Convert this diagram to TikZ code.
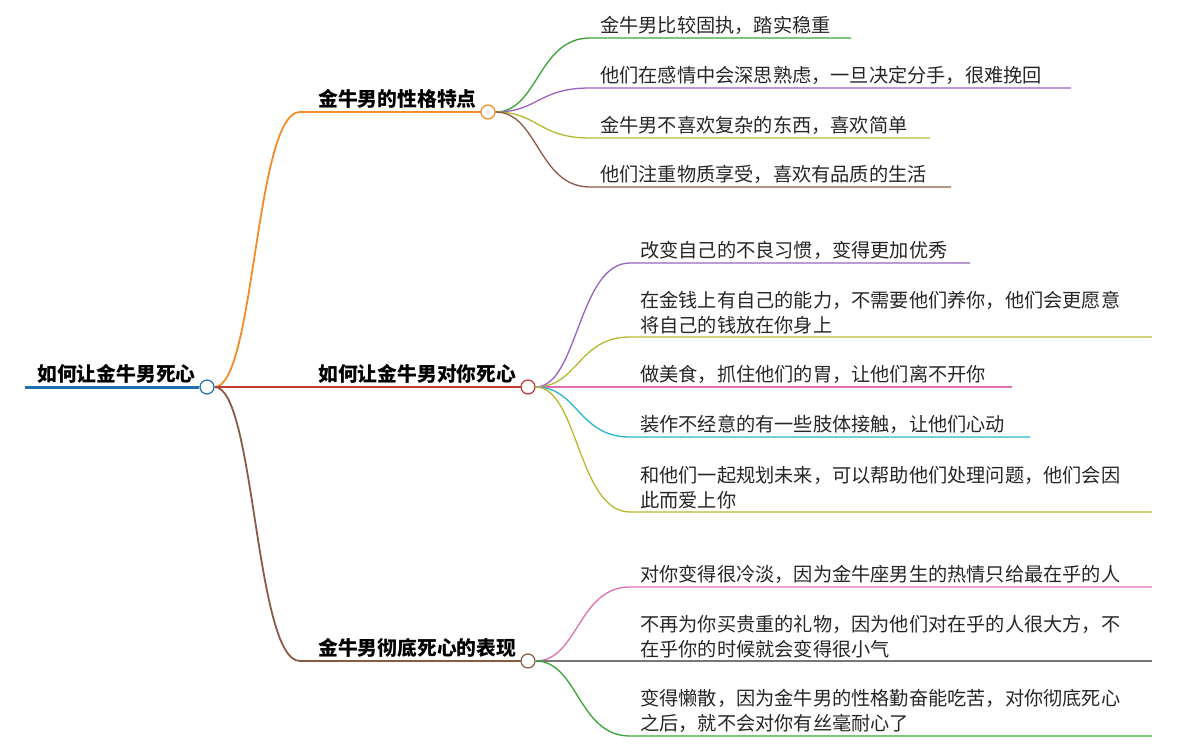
\documentclass[tikz,border=0pt]{standalone}
\usepackage{fontspec}
\setmainfont{Noto Sans CJK SC}
\begin{document}
\begin{tikzpicture}[x=1pt,y=-1pt,
 lf/.style={anchor=south west,inner sep=0pt,font=\fontsize{19.2}{25}\selectfont,align=left,text=black!85},
 br/.style={anchor=south west,inner sep=0pt,font=\fontsize{19.8}{25}\selectfont\bfseries,text=black},
 dot/.style={circle,draw=#1,fill=white,line width=1.2pt,minimum size=14pt,inner sep=0pt},
 ln/.style={line width=1.8pt,draw=#1}]
\useasboundingbox (0,0) rectangle (1202,751);
\definecolor{cO}{HTML}{F28C28}\definecolor{cR}{HTML}{C8372D}\definecolor{cB}{HTML}{8B5A44}
\definecolor{cG}{HTML}{3AA335}\definecolor{cP}{HTML}{9A62C0}\definecolor{cY}{HTML}{B8B82E}
\definecolor{cK}{HTML}{E06FB0}\definecolor{cC}{HTML}{26B5CF}\definecolor{cBl}{HTML}{1F6FB2}\definecolor{cGr}{HTML}{777777}
% root
\coordinate (r0) at (25,387);
\node[dot=cBl] (root) at (207,387) {};
\draw[line width=3pt,cBl] (r0) -- (root.west);
\node[br] (rt) at (37,384) {如何让金牛男死心};
% branches
\foreach \n/\y/\c/\t/\w in {b1/112/cO/金牛男的性格特点/488, b2/387/cR/如何让金牛男对你死心/528, b3/661/cB/金牛男彻底死心的表现/528}{
 \coordinate (\n s) at (300,\y);
 \draw[ln=\c] (root) .. controls (255,387) and (255,\y) .. (\n s) -- (\w-7,\y);
 \node[dot=\c] (\n) at (\w,\y) {};
 \node[br] (\n t) at (318,\y-3) {\t};
}
% leaves
\foreach \p/\px/\py/\sx/\ex/\y/\c/\t in {
 b1/488/112/590/851/38/cG/金牛男比较固执，踏实稳重,
 b1/488/112/590/1071/88/cP/他们在感情中会深思熟虑，一旦决定分手，很难挽回,
 b1/488/112/590/930/138/cY/金牛男不喜欢复杂的东西，喜欢简单,
 b1/488/112/590/951/187/cB/他们注重物质享受，喜欢有品质的生活,
 b2/528/387/630/970/263/cP/改变自己的不良习惯，变得更加优秀,
 b2/528/387/630/1152/337/cY/{在金钱上有自己的能力，不需要他们养你，他们会更愿意\\将自己的钱放在你身上},
 b2/528/387/630/1012/387/cK/做美食，抓住他们的胃，让他们离不开你,
 b2/528/387/630/1030/437/cC/装作不经意的有一些肢体接触，让他们心动,
 b2/528/387/630/1152/512/cY/{和他们一起规划未来，可以帮助他们处理问题，他们会因\\此而爱上你},
 b3/528/661/630/1152/587/cK/对你变得很冷淡，因为金牛座男生的热情只给最在乎的人,
 b3/528/661/630/1152/661/cGr/{不再为你买贵重的礼物，因为他们对在乎的人很大方，不\\在乎你的时候就会变得很小气},
 b3/528/661/630/1152/736/cG/{变得懒散，因为金牛男的性格勤奋能吃苦，对你彻底死心\\之后，就不会对你有丝毫耐心了}}{
 \coordinate (s) at (\sx,\y);
 \coordinate (e) at (\ex,\y);
 \draw[line width=1.3pt,\c] (\p.east) .. controls (\px+50,\py) and (\px+50,\y) .. (s) -- (e);
 \node[lf] at (\sx+10,\y-3) {\t};
}
\end{tikzpicture}
\end{document}
